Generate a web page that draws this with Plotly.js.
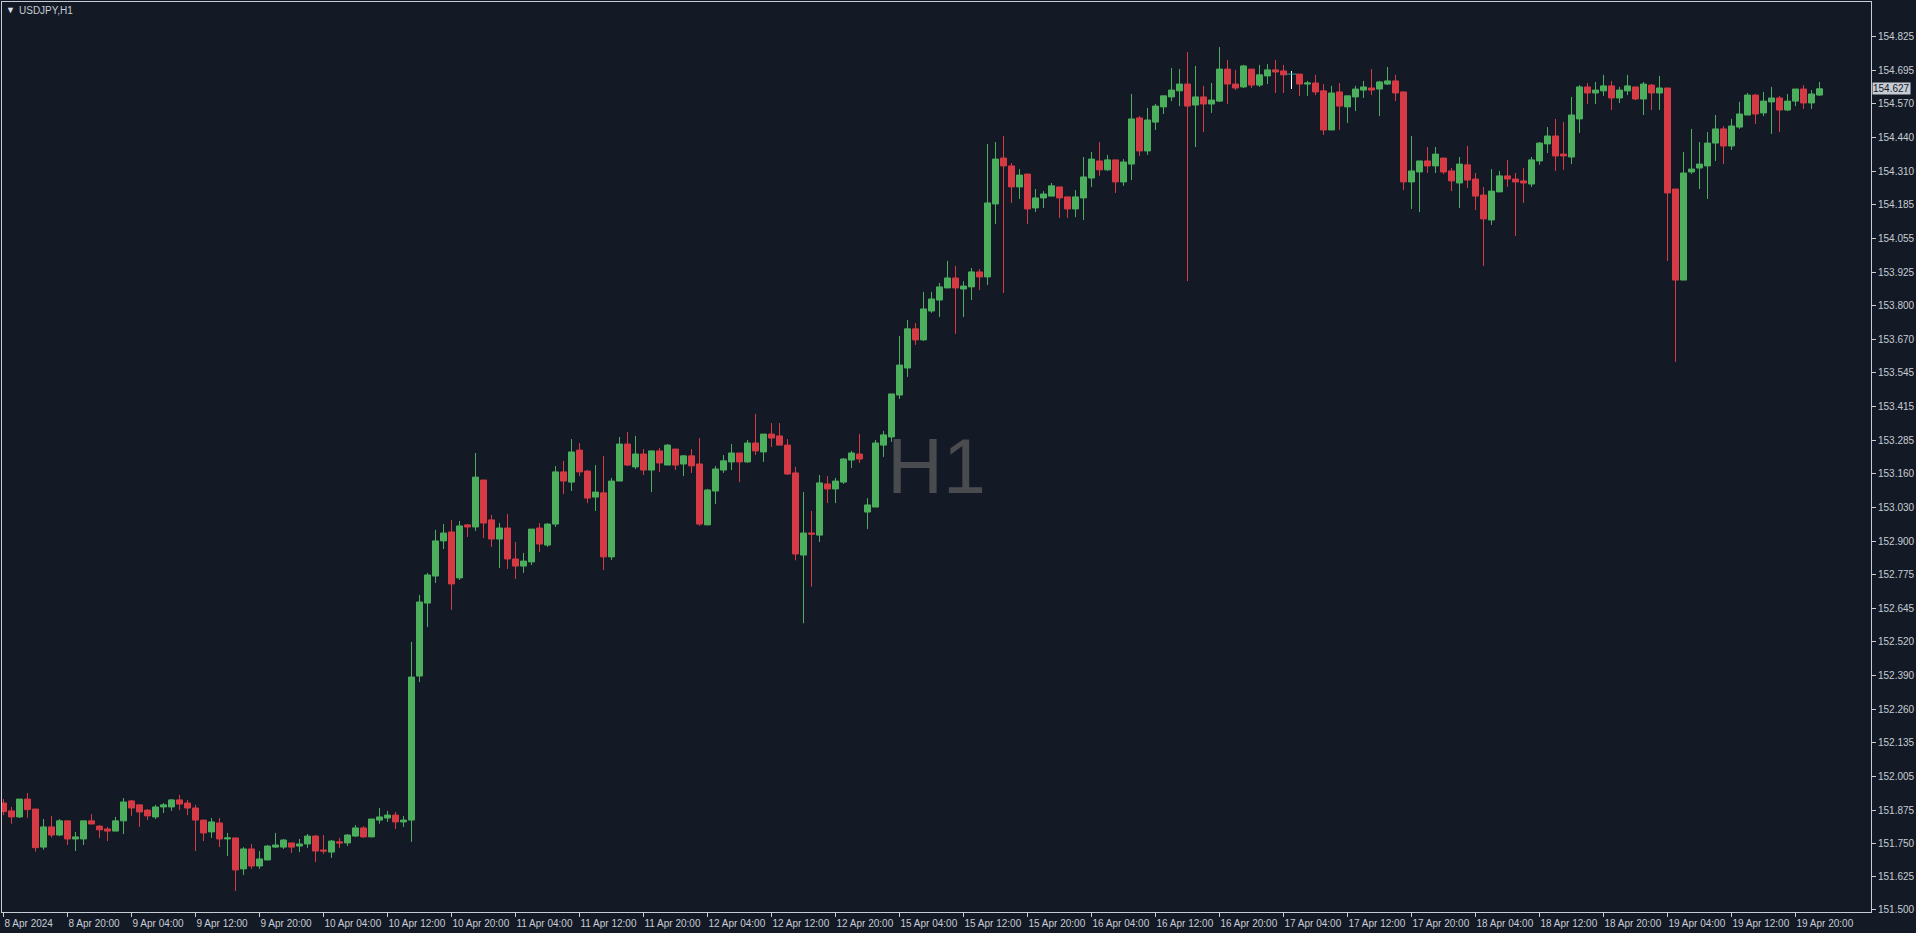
<!DOCTYPE html>
<html><head><meta charset="utf-8">
<script src="https://cdn.plot.ly/plotly-3.0.1.min.js"></script>
<style>html,body{margin:0;padding:0;background:#131a26;overflow:hidden}#chart{width:1916px;height:933px}</style>
</head><body><div id="chart"></div>
<script>
// USDJPY H1, bar 0 = 8 Apr 2024 12:00 ... bar 227 = 19 Apr 23:00
const openP = [151.905,151.875,151.852,151.920,151.882,151.737,151.814,151.783,151.837,151.768,151.768,151.837,151.817,151.806,151.798,151.837,151.913,151.898,151.878,151.852,151.890,151.890,151.917,151.905,151.886,151.840,151.795,151.829,151.768,151.772,151.654,151.730,151.665,151.688,151.737,151.737,151.753,151.741,151.749,151.779,151.726,151.718,151.757,151.753,151.779,151.810,151.776,151.840,151.848,151.859,151.833,151.840,152.389,152.667,152.770,152.904,152.938,152.763,152.965,152.957,153.136,152.984,152.911,152.953,152.835,152.808,152.824,152.953,152.888,152.968,153.167,153.128,153.250,153.170,153.071,153.087,152.843,153.132,153.273,153.186,153.235,153.174,153.247,153.193,153.254,153.197,153.228,153.197,152.965,153.094,153.174,153.205,153.239,153.205,153.277,153.243,153.311,153.304,153.269,153.163,152.850,152.934,152.926,153.121,153.102,153.128,153.212,153.235,153.014,153.033,153.269,153.300,153.460,153.563,153.712,153.670,153.780,153.822,153.868,153.906,153.864,153.872,153.929,153.910,154.188,154.363,154.333,154.253,154.302,154.173,154.211,154.218,154.253,154.215,154.169,154.211,154.287,154.352,154.318,154.356,154.272,154.340,154.516,154.390,154.500,154.558,154.596,154.619,154.645,154.565,154.596,154.569,154.580,154.702,154.645,154.634,154.702,154.641,154.676,154.699,154.695,154.683,154.683,154.645,154.649,154.619,154.470,154.615,154.558,154.596,154.622,154.630,154.626,154.645,154.657,154.615,154.272,154.310,154.352,154.333,154.363,154.314,154.268,154.337,154.283,154.222,154.127,154.234,154.295,154.283,154.276,154.264,154.352,154.417,154.447,154.378,154.367,154.512,154.634,154.611,154.619,154.638,154.592,154.619,154.634,154.588,154.641,154.611,154.630,154.245,153.898,154.310,154.325,154.333,154.420,154.474,154.409,154.481,154.527,154.603,154.535,154.577,154.592,154.546,154.580,154.626,154.573,154.603];
const highP = [151.920,151.890,151.920,151.943,151.882,151.844,151.856,151.844,151.837,151.795,151.837,151.863,151.821,151.814,151.852,151.924,151.917,151.898,151.882,151.898,151.905,151.920,151.936,151.917,151.898,151.840,151.848,151.848,151.791,151.772,151.737,151.749,151.722,151.745,151.791,151.768,151.753,151.768,151.787,151.783,151.783,151.764,151.772,151.787,151.821,151.817,151.844,151.886,151.875,151.871,151.856,152.519,152.698,152.782,152.946,152.968,152.984,152.980,152.968,153.239,153.136,153.003,152.972,153.006,152.900,152.858,152.949,152.972,152.972,153.189,153.209,153.292,153.277,153.174,153.193,153.228,153.144,153.300,153.319,153.304,153.254,153.247,153.258,153.273,153.254,153.231,153.254,153.296,153.102,153.189,153.231,153.273,153.239,153.289,153.388,153.311,153.353,153.353,153.292,153.186,153.090,153.018,153.155,153.151,153.144,153.220,153.247,153.311,153.067,153.289,153.323,153.464,153.685,153.746,153.734,153.853,153.853,153.887,153.971,153.952,153.894,153.944,153.940,154.417,154.424,154.447,154.344,154.321,154.302,154.245,154.237,154.268,154.253,154.215,154.241,154.367,154.386,154.424,154.375,154.356,154.359,154.607,154.523,154.554,154.569,154.600,154.706,154.702,154.767,154.714,154.638,154.649,154.786,154.737,154.699,154.718,154.702,154.718,154.721,154.737,154.718,154.695,154.683,154.657,154.680,154.645,154.638,154.649,154.600,154.638,154.657,154.702,154.657,154.710,154.680,154.615,154.447,154.352,154.405,154.405,154.363,154.325,154.367,154.409,154.306,154.253,154.321,154.314,154.356,154.306,154.325,154.367,154.424,154.481,154.512,154.500,154.596,154.641,154.649,154.653,154.680,154.657,154.634,154.680,154.634,154.653,154.645,154.676,154.630,154.245,154.386,154.474,154.424,154.462,154.527,154.485,154.512,154.577,154.611,154.607,154.615,154.634,154.600,154.607,154.626,154.641,154.622,154.653];
const lowP = [151.859,151.826,151.848,151.849,151.720,151.727,151.773,151.779,151.745,151.722,151.745,151.825,151.772,151.760,151.798,151.787,151.856,151.814,151.840,151.844,151.867,151.875,151.878,151.859,151.722,151.760,151.772,151.737,151.703,151.570,151.631,151.654,151.654,151.688,151.734,151.730,151.715,151.718,151.734,151.680,151.711,151.696,151.734,151.741,151.776,151.772,151.776,151.826,151.833,151.806,151.814,151.757,152.366,152.576,152.744,152.873,152.641,152.755,152.919,152.942,152.915,152.881,152.801,152.797,152.759,152.782,152.812,152.862,152.881,152.957,153.083,153.094,153.151,153.048,153.018,152.793,152.831,153.132,153.189,153.178,153.155,153.090,153.167,153.193,153.174,153.151,153.163,152.961,152.965,153.045,153.163,153.174,153.128,153.201,153.231,153.205,153.262,153.269,153.155,152.830,152.590,152.730,152.900,153.048,153.048,153.121,153.182,153.201,152.949,153.033,153.224,153.281,153.445,153.529,153.651,153.666,153.773,153.757,153.868,153.693,153.757,153.822,153.860,153.879,154.112,153.849,154.192,154.207,154.112,154.157,154.173,154.218,154.135,154.135,154.138,154.127,154.253,154.295,154.314,154.230,154.257,154.279,154.371,154.375,154.470,154.531,154.580,154.561,153.894,154.405,154.462,154.535,154.577,154.569,154.622,154.630,154.630,154.634,154.645,154.611,154.611,154.626,154.600,154.600,154.603,154.451,154.470,154.470,154.497,154.542,154.592,154.603,154.523,154.641,154.580,154.241,154.169,154.157,154.306,154.306,154.302,154.237,154.173,154.249,154.165,153.952,154.108,154.234,154.253,154.066,154.192,154.253,154.337,154.382,154.314,154.318,154.340,154.459,154.569,154.569,154.600,154.546,154.573,154.603,154.584,154.527,154.546,154.546,153.971,153.586,153.898,154.302,154.245,154.207,154.352,154.340,154.394,154.474,154.527,154.493,154.523,154.455,154.462,154.542,154.561,154.550,154.550,154.600];
const closeP = [151.872,151.852,151.920,151.880,151.735,151.814,151.783,151.837,151.768,151.776,151.837,151.825,151.803,151.798,151.837,151.909,151.886,151.871,151.856,151.890,151.898,151.917,151.901,151.886,151.840,151.791,151.833,151.768,151.772,151.650,151.730,151.665,151.692,151.741,151.745,151.764,151.737,151.749,151.779,151.722,151.722,151.760,151.753,151.783,151.810,151.776,151.844,151.852,151.859,151.833,151.840,152.385,152.671,152.774,152.904,152.934,152.740,152.961,152.957,153.147,152.972,152.911,152.953,152.835,152.808,152.827,152.949,152.892,152.968,153.167,153.132,153.243,153.167,153.067,153.090,152.843,153.132,153.273,153.193,153.235,153.174,153.247,153.201,153.269,153.193,153.228,153.190,152.968,153.098,153.178,153.209,153.239,153.205,153.277,153.247,153.311,153.296,153.269,153.159,152.854,152.934,152.930,153.125,153.102,153.132,153.216,153.239,153.216,153.041,153.277,153.308,153.464,153.574,153.712,153.670,153.788,153.826,153.872,153.906,153.868,153.875,153.929,153.910,154.192,154.359,154.333,154.253,154.298,154.169,154.211,154.226,154.257,154.211,154.169,154.215,154.291,154.359,154.318,154.356,154.272,154.348,154.512,154.390,154.508,154.561,154.600,154.622,154.645,154.561,154.596,154.569,154.584,154.702,154.645,154.630,154.714,154.641,154.680,154.699,154.691,154.680,154.683,154.645,154.649,154.615,154.470,154.611,154.561,154.600,154.626,154.634,154.622,154.653,154.657,154.611,154.272,154.314,154.352,154.333,154.378,154.310,154.276,154.340,154.279,154.218,154.131,154.237,154.295,154.283,154.272,154.268,154.356,154.420,154.447,154.371,154.371,154.527,154.634,154.611,154.622,154.638,154.592,154.622,154.638,154.588,154.645,154.611,154.630,154.230,153.898,154.306,154.321,154.340,154.420,154.474,154.409,154.485,154.531,154.603,154.531,154.580,154.592,154.546,154.580,154.626,154.573,154.607,154.627];

// time-axis labels, one every 8 bars
const timeLabels = ['8 Apr 2024','8 Apr 20:00','9 Apr 04:00','9 Apr 12:00','9 Apr 20:00','10 Apr 04:00','10 Apr 12:00','10 Apr 20:00','11 Apr 04:00','11 Apr 12:00','11 Apr 20:00','12 Apr 04:00','12 Apr 12:00','12 Apr 20:00','15 Apr 04:00','15 Apr 12:00','15 Apr 20:00','16 Apr 04:00','16 Apr 12:00','16 Apr 20:00','17 Apr 04:00','17 Apr 12:00','17 Apr 20:00','18 Apr 04:00','18 Apr 12:00','18 Apr 20:00','19 Apr 04:00','19 Apr 12:00','19 Apr 20:00'];
const labelStep = 8;

// price-axis labels
const priceTicks = [154.825,154.695,154.570,154.440,154.310,154.185,154.055,153.925,153.800,153.670,153.545,153.415,153.285,153.160,153.030,152.900,152.775,152.645,152.520,152.390,152.260,152.135,152.005,151.875,151.750,151.625,151.500];
const priceTickText = priceTicks.map(v => v.toFixed(3));

const symbolName = 'USDJPY,H1';
const periodName = 'H1';
const lastPrice = 154.627;

const BG = '#131a26', FG = '#c8ccd4', UP = '#4caf5e', DN = '#d63a44';
const FONT = "'Liberation Sans', Arial, sans-serif";

const idx = openP.map((_, i) => i);
const bodyIdx = idx.filter(i => openP[i] !== closeP[i]);
const dojiIdx = idx.filter(i => openP[i] === closeP[i]);

const candles = {
  type: 'candlestick',
  x: bodyIdx,
  open: bodyIdx.map(i => openP[i]),
  high: bodyIdx.map(i => highP[i]),
  low: bodyIdx.map(i => lowP[i]),
  close: bodyIdx.map(i => closeP[i]),
  increasing: {line: {color: UP, width: 1}, fillcolor: UP},
  decreasing: {line: {color: DN, width: 1}, fillcolor: DN},
  whiskerwidth: 0,
  hoverinfo: 'skip'
};
const dojiWick = {
  type: 'scatter', mode: 'lines',
  x: dojiIdx.flatMap(i => [i, i, null]),
  y: dojiIdx.flatMap(i => [lowP[i], highP[i], null]),
  line: {color: '#ffffff', width: 1},
  hoverinfo: 'skip'
};
const dojiTick = {
  type: 'scatter', mode: 'markers',
  x: dojiIdx, y: dojiIdx.map(i => openP[i]),
  marker: {symbol: 'line-ew', size: 7, line: {color: '#26a69a', width: 1}},
  hoverinfo: 'skip'
};

const plotW = 1916 - 2 - 45;
const x0 = -0.1875;

const layout = {
  width: 1916, height: 933,
  paper_bgcolor: BG, plot_bgcolor: BG,
  margin: {l: 2, r: 45, t: 2, b: 21, pad: 0},
  showlegend: false,
  boxgap: 0.25, boxgroupgap: 0,
  font: {family: FONT, size: 10, color: FG},
  xaxis: {
    range: [x0, x0 + plotW / 8],
    tickmode: 'array',
    tickvals: timeLabels.map((_, k) => k * labelStep),
    ticktext: timeLabels,
    ticklabelposition: 'outside right',
    ticklabelstandoff: 2,
    tickangle: 0,
    ticks: 'outside', ticklen: 4, tickcolor: FG, tickwidth: 1,
    showline: true, mirror: true, linecolor: FG, linewidth: 1,
    showgrid: false, zeroline: false,
    rangeslider: {visible: false},
    tickfont: {family: FONT, size: 10, color: FG},
    fixedrange: true
  },
  yaxis: {
    side: 'right',
    range: [151.4897, 154.9577],
    tickmode: 'array',
    tickvals: priceTicks,
    ticktext: priceTickText,
    ticks: 'outside', ticklen: 4, tickcolor: FG, tickwidth: 1,
    showline: true, mirror: true, linecolor: FG, linewidth: 1,
    showgrid: false, zeroline: false,
    tickfont: {family: FONT, size: 10, color: FG},
    fixedrange: true
  },
  shapes: [{
    type: 'rect', xref: 'paper', yref: 'paper',
    x0: 0.45, x1: 0.55, y0: 0.45, y1: 0.545,
    line: {width: 0}, fillcolor: 'rgba(0,0,0,0)', layer: 'below',
    label: {text: periodName, textposition: 'middle center',
            font: {family: FONT, size: 77, color: '#4a4b4e'}}
  }],
  annotations: [
    {xref: 'paper', yref: 'paper', x: 0, y: 1, xanchor: 'left', yanchor: 'middle',
     xshift: 2, yshift: -8, text: '▼', showarrow: false,
     font: {family: FONT, size: 9, color: '#e0e4ea'}},
    {xref: 'paper', yref: 'paper', x: 0, y: 1, xanchor: 'left', yanchor: 'middle',
     xshift: 15, yshift: -8, text: symbolName, showarrow: false,
     font: {family: FONT, size: 10, color: FG}},
    {xref: 'paper', yref: 'y', x: 1, y: lastPrice, xanchor: 'left', yanchor: 'middle',
     xshift: 1, text: lastPrice.toFixed(3), showarrow: false,
     bgcolor: '#c8ccd4', borderpad: 0,
     font: {family: FONT, size: 10, color: BG}}
  ]
};

Plotly.newPlot('chart', [candles, dojiWick, dojiTick], layout, {staticPlot: true, displayModeBar: false});
</script>
</body></html>
